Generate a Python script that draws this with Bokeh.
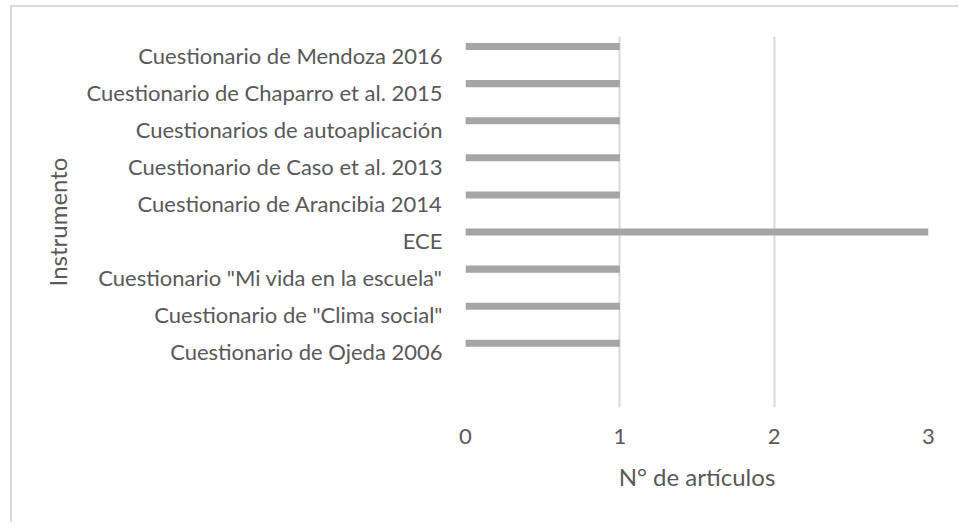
from bokeh.plotting import figure
from bokeh.models import FactorRange, Range1d, FixedTicker, ColumnDataSource
from bokeh.transform import dodge
from bokeh.embed import file_html
from bokeh.resources import INLINE

# ---- data (top to bottom as shown) ----
instrumentos = [
    "Cuestionario de Mendoza 2016",
    "Cuestionario de Chaparro et al. 2015",
    "Cuestionarios de autoaplicación",
    "Cuestionario de Caso et al. 2013",
    "Cuestionario de Arancibia 2014",
    "ECE",
    "Cuestionario \"Mi vida en la escuela\"",
    "Cuestionario de \"Clima social\"",
    "Cuestionario de Ojeda 2006",
]
articulos = [1, 1, 1, 1, 1, 3, 1, 1, 1]
x_ticks = [0, 1, 2, 3]
x_title = "N° de artículos"
y_title = "Instrumento"

FONT = "Lato"
TXT = "#595959"

factors = [" "] + list(reversed(instrumentos))
src = ColumnDataSource(dict(cat=instrumentos, n=articulos))

p = figure(
    y_range=FactorRange(factors=factors, range_padding=0),
    x_range=Range1d(0, 3),
    frame_width=463, frame_height=371,
    min_border_left=453, min_border_top=29, min_border_right=30, min_border_bottom=115,
    output_backend="svg", toolbar_location=None,
)
p.styles = {"margin-left": "10px", "margin-top": "5px",
            "border-top": "2px solid #d9d9d9", "border-left": "2px solid #d9d9d9"}

p.hbar(y=dodge("cat", 0.23, range=p.y_range), left=0, right="n", height=0.19,
       source=src, fill_color="#a5a5a5", line_color=None)

p.outline_line_color = None
p.ygrid.grid_line_color = None
p.xgrid.grid_line_color = "#d9d9d9"
p.xgrid.grid_line_width = 2
p.xaxis.ticker = FixedTicker(ticks=x_ticks)

for ax in (p.xaxis[0], p.yaxis[0]):
    ax.axis_line_color = None
    ax.major_tick_line_color = None
    ax.minor_tick_line_color = None
    ax.major_label_text_font = FONT
    ax.major_label_text_color = TXT
    ax.major_label_text_font_size = "22px"
    ax.axis_label_text_font = FONT
    ax.axis_label_text_color = TXT
    ax.axis_label_text_font_size = "24px"
    ax.axis_label_text_font_style = "normal"

p.xaxis.axis_label = x_title
p.yaxis.axis_label = y_title
p.xaxis.major_label_standoff = 15
p.xaxis.axis_label_standoff = 15
p.yaxis.major_label_standoff = 17
p.yaxis.axis_label_standoff = 11

open("out.html", "w").write(file_html(p, INLINE))
